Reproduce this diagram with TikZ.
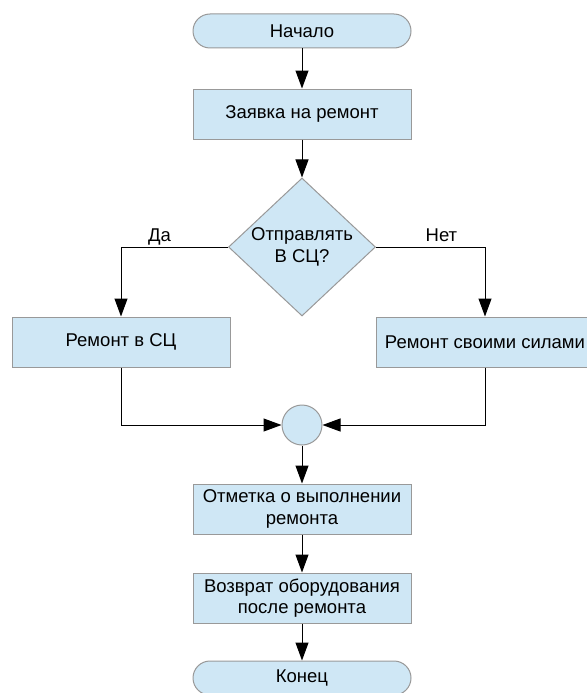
\documentclass[tikz,border=0pt]{standalone}
\usepackage{fontspec}
\setmainfont{Liberation Sans}
\usepackage{xcolor}
\usetikzlibrary{shapes,shapes.geometric,arrows,positioning,calc,arrows.meta}

\definecolor{boxblue}{HTML}{CFE7F5}
\definecolor{boxline}{HTML}{999999}

\tikzset{
    txt/.style={font=\fontsize{18.5}{21.5}\selectfont},
    block/.style={txt, draw=boxline, fill=boxblue, line width=1pt, minimum width=218pt, minimum height=50pt, align=center, inner sep=0pt},
    term/.style={txt, draw=boxline, fill=boxblue, line width=1pt, minimum width=218pt, minimum height=34pt, rounded corners=17pt, inner sep=0pt},
    decide/.style={txt, diamond, draw=boxline, fill=boxblue, line width=1pt, minimum width=147pt, minimum height=138pt, aspect=1.07, align=center, inner sep=0pt},
    joint/.style={circle, draw=boxline, fill=boxblue, line width=1pt, minimum size=40pt, inner sep=0pt},
    branch/.style={txt, above, text depth=4pt, inner sep=1pt},
    arr/.style={line width=1pt, -{Triangle[length=18pt,width=13pt]}},
}

\begin{document}
\begin{tikzpicture}[x=1pt,y=-1pt]
    \useasboundingbox (0,0) rectangle (586,693);

    % Start and request
    \node [term] (start) at (302, 31) {Начало};
    \node [block] (request) at (302, 114) {Заявка на ремонт};

    % Decision
    \node [decide] (ask) at (302, 247) {Отправлять\\В СЦ?};
    \node [block] (center) at (121, 342) {Ремонт в СЦ};
    \node [block] (self) at (485, 342) {Ремонт своими силами};
    \node [joint] (join) at (302, 425) {};

    % Finish
    \node [block] (mark) at (302, 509) {Отметка о выполнении\\ремонта};
    \node [block] (back) at (302, 598) {Возврат оборудования\\после ремонта};
    \node [term] (stop) at (302, 678) {Конец};

    \draw [arr] (start) -- (request);
    \draw [arr] (request) -- (ask);
    \draw [arr] (ask.west) -| node [branch, pos=0.32] {Да} (center.north);
    \draw [arr] (ask.east) -| node [branch, pos=0.3] {Нет} (self.north);
    \draw [arr] (center.south) |- (join.west);
    \draw [arr] (self.south) |- (join.east);
    \draw [arr] (join) -- (mark);
    \draw [arr] (mark) -- (back);
    \draw [arr] (back) -- (stop);
\end{tikzpicture}
\end{document}
